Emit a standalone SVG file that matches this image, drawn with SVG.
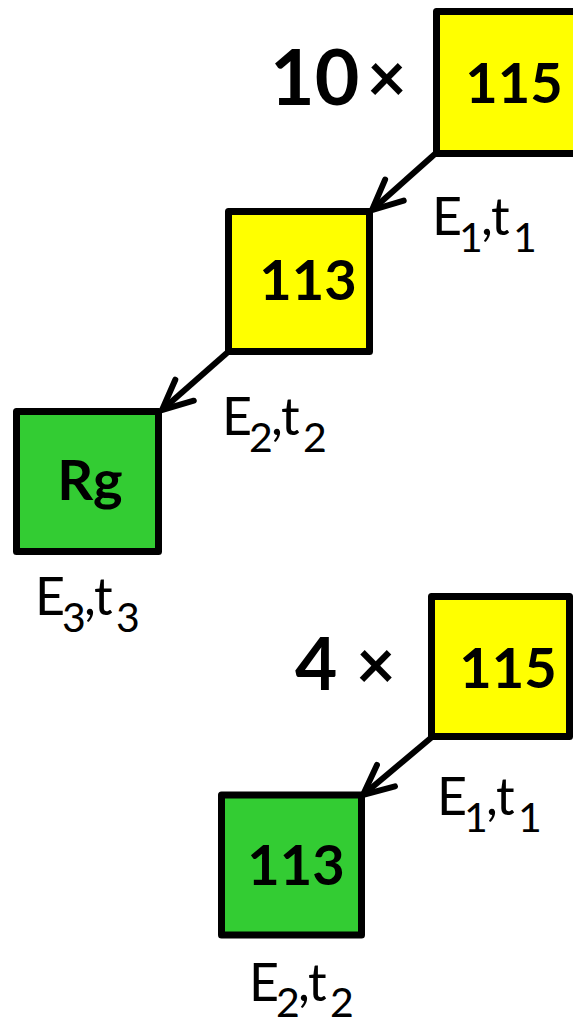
<svg xmlns="http://www.w3.org/2000/svg" width="573" height="1022" viewBox="0 0 573 1022">
<style>
.box{stroke:#000;stroke-width:7;stroke-linejoin:round}
.y{fill:#FFFF00}
.g{fill:#33CC33}
.num{font-family:Lato,"Liberation Sans",sans-serif;font-weight:bold;font-size:56px;fill:#000;text-anchor:middle}
.mult{font-family:Lato,"Liberation Sans",sans-serif;font-weight:bold;fill:#000}
.lbl{font-family:Lato,"Liberation Sans",sans-serif;font-size:52px;fill:#000}
.sub{font-size:41px}
.arr{stroke:#000;stroke-width:6;fill:none}
</style>
<defs>
<marker id="ah" markerUnits="userSpaceOnUse" viewBox="-40 -20 50 40" refX="0" refY="0" markerWidth="50" markerHeight="40" orient="auto">
<path d="M-30,-14 L0,0 L-30,14" fill="none" stroke="#000" stroke-width="6" stroke-linejoin="miter" stroke-linecap="round"/>
</marker>
</defs>
<g id="connectors">
<line class="arr" x1="436" y1="153" x2="372" y2="210" marker-end="url(#ah)"/>
<line class="arr" x1="228" y1="352" x2="162" y2="410" marker-end="url(#ah)"/>
<line class="arr" x1="432" y1="737" x2="363" y2="795" marker-end="url(#ah)"/>
</g>
<g id="count10">
<text class="mult" font-size="77" x="270" y="105">10</text>
<text class="mult" font-size="68" x="367" y="102">×</text>
</g>
<g id="node115a">
<rect class="box y" x="436.5" y="11.5" width="141" height="142"/>
<text class="num" x="514" y="103">115</text>
</g>
<g id="node113a">
<rect class="box y" x="228.5" y="211.5" width="141" height="140"/>
<text class="num" x="308" y="300">113</text>
</g>
<g id="nodeRg">
<rect class="box g" x="16.5" y="411.5" width="142" height="140"/>
<text class="num" x="90" y="500">Rg</text>
</g>
<g id="count4">
<text class="mult" font-size="73" x="295" y="690">4</text>
<text class="mult" font-size="68" x="356" y="689">×</text>
</g>
<g id="node115b">
<rect class="box y" x="431.5" y="596.5" width="138" height="140"/>
<text class="num" x="508" y="688">115</text>
</g>
<g id="node113b">
<rect class="box g" x="221.5" y="795" width="140" height="140"/>
<text class="num" x="296" y="885">113</text>
</g>
<g id="labels">
<text class="lbl" transform="translate(432,235)"><tspan x="0" y="0">E</tspan><tspan class="sub" x="27" y="17">1</tspan><tspan x="49" y="0">,</tspan><tspan x="59" y="0">t</tspan><tspan class="sub" x="81" y="17">1</tspan></text>
<text class="lbl" transform="translate(222,435)"><tspan x="0" y="0">E</tspan><tspan class="sub" x="27" y="17">2</tspan><tspan x="49" y="0">,</tspan><tspan x="59" y="0">t</tspan><tspan class="sub" x="81" y="17">2</tspan></text>
<text class="lbl" transform="translate(35,615)"><tspan x="0" y="0">E</tspan><tspan class="sub" x="27" y="17">3</tspan><tspan x="49" y="0">,</tspan><tspan x="59" y="0">t</tspan><tspan class="sub" x="81" y="17">3</tspan></text>
<text class="lbl" transform="translate(437,815)"><tspan x="0" y="0">E</tspan><tspan class="sub" x="27" y="17">1</tspan><tspan x="49" y="0">,</tspan><tspan x="59" y="0">t</tspan><tspan class="sub" x="81" y="17">1</tspan></text>
<text class="lbl" transform="translate(249,1001)"><tspan x="0" y="0">E</tspan><tspan class="sub" x="27" y="16">2</tspan><tspan x="49" y="0">,</tspan><tspan x="59" y="0">t</tspan><tspan class="sub" x="81" y="16">2</tspan></text>
</g>
</svg>
